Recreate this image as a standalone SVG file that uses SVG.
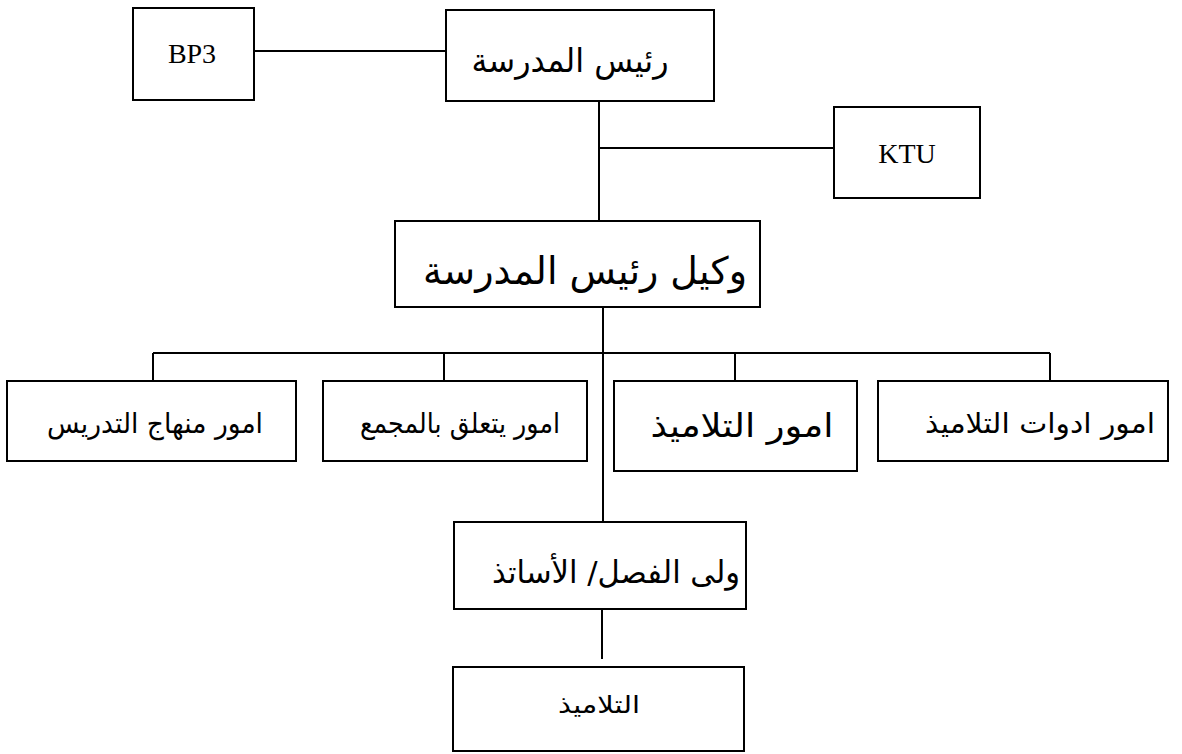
<svg xmlns="http://www.w3.org/2000/svg" width="1182" height="754" viewBox="0 0 1182 754">
<style>
.box{fill:#fff;stroke:#000;stroke-width:2}
.ln{stroke:#000;stroke-width:2;fill:none}
.lat{font-family:"Liberation Serif",serif;font-size:28px;fill:#000;text-anchor:middle}
.ar{font-family:"DejaVu Sans",sans-serif;fill:#000;text-anchor:middle;direction:rtl}
</style>
<rect width="1182" height="754" fill="#fff"/>
<g id="connectors">
<line class="ln" x1="254" y1="51" x2="446" y2="51"/>
<line class="ln" x1="599" y1="101" x2="599" y2="221"/>
<line class="ln" x1="599" y1="148" x2="834" y2="148"/>
<line class="ln" x1="603" y1="307" x2="603" y2="522"/>
<line class="ln" x1="153" y1="353" x2="1050" y2="353"/>
<line class="ln" x1="153" y1="353" x2="153" y2="381"/>
<line class="ln" x1="444" y1="353" x2="444" y2="381"/>
<line class="ln" x1="735" y1="353" x2="735" y2="381"/>
<line class="ln" x1="1050" y1="353" x2="1050" y2="381"/>
<line class="ln" x1="602" y1="609" x2="602" y2="659"/>
</g>
<g id="bp3"><rect class="box" x="133" y="8" width="121" height="92"/><text class="lat" x="192" y="63">BP3</text></g>
<g id="head"><rect class="box" x="446" y="10" width="268" height="91"/><text class="ar" x="570" y="72" font-size="33" textLength="197" lengthAdjust="spacingAndGlyphs">رئيس المدرسة</text></g>
<g id="ktu"><rect class="box" x="834" y="107" width="146" height="91"/><text class="lat" x="907" y="163">KTU</text></g>
<g id="wakil"><rect class="box" x="395" y="221" width="365" height="86"/><text class="ar" x="585" y="284" font-size="38" textLength="324" lengthAdjust="spacingAndGlyphs">وكيل  رئيس المدرسة</text></g>
<g id="n1"><rect class="box" x="7" y="381" width="289" height="80"/><text class="ar" x="155" y="433" font-size="28" textLength="216" lengthAdjust="spacingAndGlyphs">امور منهاج التدريس</text></g>
<g id="n2"><rect class="box" x="323" y="381" width="264" height="80"/><text class="ar" x="460" y="433" font-size="28" textLength="200" lengthAdjust="spacingAndGlyphs">امور يتعلق بالمجمع</text></g>
<g id="n3"><rect class="box" x="614" y="381" width="243" height="90"/><text class="ar" x="742" y="437" font-size="33" textLength="183" lengthAdjust="spacingAndGlyphs">امور التلاميذ</text></g>
<g id="n4"><rect class="box" x="878" y="381" width="290" height="80"/><text class="ar" x="1040" y="433" font-size="28" textLength="230" lengthAdjust="spacingAndGlyphs">امور ادوات التلاميذ</text></g>
<g id="wali"><rect class="box" x="454" y="522" width="292" height="87"/><text class="ar" x="616" y="583" font-size="31" textLength="248" lengthAdjust="spacingAndGlyphs">ولى الفصل/ الأساتذ</text></g>
<g id="talamidh"><rect class="box" x="453" y="667" width="291" height="84"/><text class="ar" x="599" y="713" font-size="24" textLength="82" lengthAdjust="spacingAndGlyphs">التلاميذ</text></g>
</svg>
